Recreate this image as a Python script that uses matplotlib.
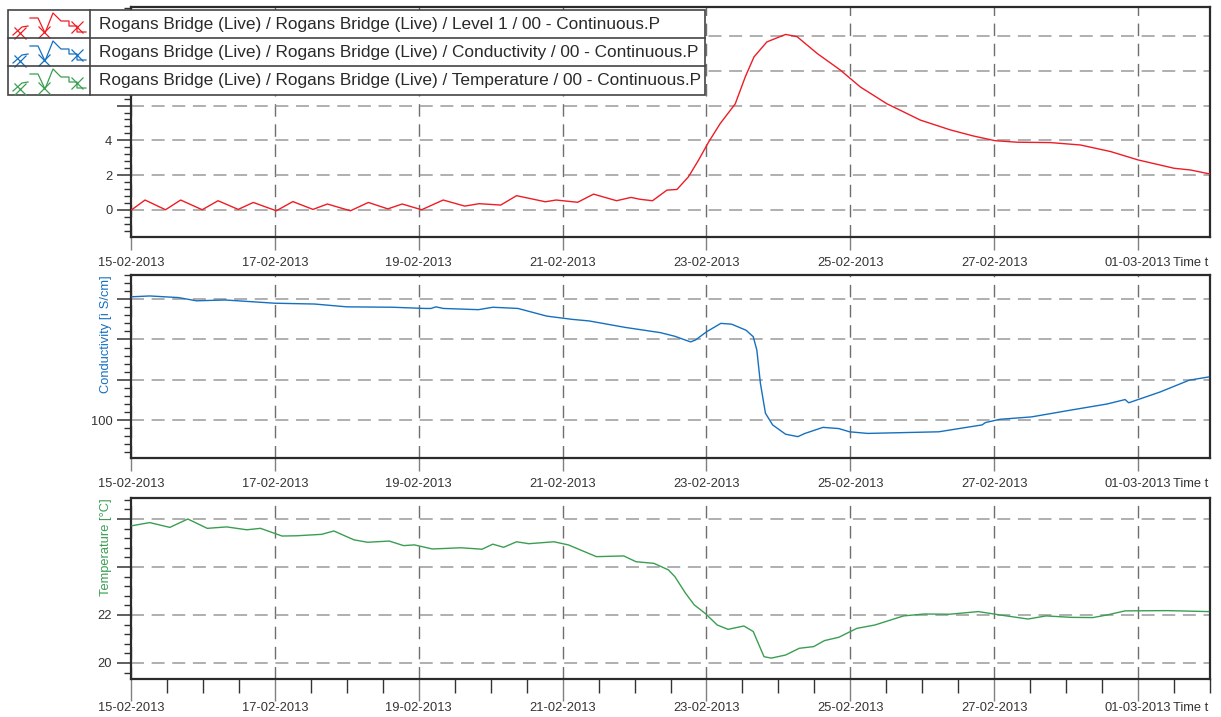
import datetime as dt

import matplotlib
matplotlib.use("Agg")
import matplotlib.dates as mdates
import numpy as np
from matplotlib import pyplot as plt
from matplotlib.patches import Rectangle
from matplotlib.ticker import FixedLocator, MultipleLocator, NullFormatter

plt.rcParams['font.family'] = ['Liberation Sans', 'DejaVu Sans']

W, H = 1221, 717
START = dt.datetime(2013, 2, 15)

# ---- data (days since 15-02-2013 00:00, value) ----
level_days = [0.01, 0.195, 0.48, 0.69, 0.99, 1.21, 1.49, 1.70, 2.02, 2.25, 2.53, 2.73,
              3.05, 3.30, 3.57, 3.77, 4.04, 4.34, 4.64, 4.84, 5.14, 5.36, 5.76, 5.91,
              6.21, 6.43, 6.75, 6.95, 7.08, 7.25, 7.45, 7.59, 7.75, 7.89, 8.03, 8.19,
              8.40, 8.54, 8.66, 8.84, 9.10, 9.26, 9.54, 9.86, 10.14, 10.51, 10.70, 10.97,
              11.39, 11.71, 12.01, 12.32, 12.78, 13.20, 13.62, 14.0, 14.50, 14.73, 15.0]
level_vals = [0.0, 0.56, 0.0, 0.56, 0.0, 0.52, 0.02, 0.42, -0.06, 0.47, 0.02, 0.33,
              -0.06, 0.42, 0.05, 0.33, 0.0, 0.56, 0.21, 0.35, 0.27, 0.81, 0.46, 0.56,
              0.43, 0.90, 0.52, 0.71, 0.60, 0.52, 1.13, 1.17, 1.90, 2.86, 3.90, 4.96,
              6.10, 7.66, 8.80, 9.67, 10.10, 9.97, 9.00, 8.05, 7.07, 6.10, 5.72, 5.17,
              4.60, 4.25, 3.98, 3.89, 3.87, 3.73, 3.35, 2.87, 2.39, 2.29, 2.06]

cond_days = [0.015, 0.26, 0.66, 0.91, 1.31, 2.0, 2.55, 3.0, 3.64, 4.09, 4.17, 4.24,
             4.34, 4.83, 5.03, 5.38, 5.78, 6.13, 6.37, 6.87, 7.36, 7.56, 7.78, 7.85,
             8.0, 8.20, 8.35, 8.55, 8.65, 8.70, 8.75, 8.82, 8.92, 9.10, 9.27, 9.37,
             9.62, 9.84, 9.99, 10.24, 10.74, 11.23, 11.58, 11.83, 11.88, 12.08, 12.52,
             13.07, 13.57, 13.82, 13.87, 14.31, 14.71, 14.98]
cond_vals = [130.6, 130.8, 130.4, 129.6, 129.8, 129.0, 128.8, 128.1, 128.0, 127.7, 127.7, 128.1,
             127.7, 127.4, 128.0, 127.7, 125.8, 125.0, 124.6, 123.0, 121.7, 120.8, 119.4, 119.9,
             121.9, 124.0, 123.8, 122.3, 120.7, 117.4, 109.1, 101.7, 98.8, 96.5, 95.9, 96.7,
             98.2, 97.9, 97.1, 96.7, 96.9, 97.1, 98.1, 98.8, 99.4, 100.2, 100.8,
             102.5, 104.0, 105.1, 104.3, 107.0, 109.9, 110.7]

temp_days = [0.015, 0.26, 0.54, 0.79, 1.06, 1.33, 1.61, 1.80, 2.10, 2.30, 2.65, 2.82,
             3.10, 3.29, 3.59, 3.79, 3.94, 4.19, 4.59, 4.88, 5.03, 5.18, 5.36, 5.53,
             5.88, 6.08, 6.47, 6.85, 7.02, 7.27, 7.47, 7.56, 7.71, 7.83, 7.98, 8.15,
             8.30, 8.52, 8.65, 8.80, 8.90, 9.10, 9.29, 9.49, 9.64, 9.84, 10.09, 10.34,
             10.74, 11.03, 11.38, 11.78, 12.08, 12.47, 12.72, 13.07, 13.37, 13.57, 13.82,
             14.41, 14.98]
temp_vals = [25.72, 25.85, 25.65, 26.0, 25.61, 25.67, 25.55, 25.61, 25.29, 25.30, 25.36, 25.5,
             25.13, 25.03, 25.08, 24.89, 24.92, 24.75, 24.80, 24.74, 24.95, 24.82, 25.05, 24.97,
             25.05, 24.92, 24.43, 24.46, 24.22, 24.15, 23.88, 23.6, 22.9, 22.42, 22.07, 21.58,
             21.40, 21.54, 21.31, 20.26, 20.2, 20.33, 20.61, 20.68, 20.93, 21.07, 21.44, 21.58,
             21.96, 22.04, 22.03, 22.14, 22.0, 21.83, 21.96, 21.90, 21.89, 22.0, 22.17,
             22.18, 22.14]

legend_labels = [
    "Rogans Bridge (Live) / Rogans Bridge (Live) / Level 1 / 00 - Continuous.P",
    "Rogans Bridge (Live) / Rogans Bridge (Live) / Conductivity / 00 - Continuous.P",
    "Rogans Bridge (Live) / Rogans Bridge (Live) / Temperature / 00 - Continuous.P",
]
colors = ['#ee1c25', '#1570c0', '#3a9e52']
tick_days = [0, 2, 4, 6, 8, 10, 12, 14]

# y-axis setup per panel: (ylim, grid ticks, labelled ticks, minor step, ylabel)
panels = [
    ((-1.57, 11.68), [0, 2, 4, 6, 8, 10], [0, 2, 4], 0.4, None),
    ((90.6, 136.0), [100, 110, 120, 130], [100], 2, "Conductivity [ì S/cm]"),
    ((19.33, 26.875), [20, 22, 24, 26], [20, 22], 0.4, "Temperature [°C]"),
]
series = [(level_days, level_vals), (cond_days, cond_vals), (temp_days, temp_vals)]
# axes boxes in pixels: top, bottom
boxes = [(7, 237), (275, 458), (498, 679)]
left_px, right_px = 131, 1210


def to_dates(days):
    return [START + dt.timedelta(days=d) for d in days]


fig = plt.figure(figsize=(W / 100, H / 100), dpi=100)
for i, ((top, bot), (ylim, grid_t, lab_t, mstep, ylab), (xd, yv)) in enumerate(
        zip(boxes, panels, series)):
    ax = fig.add_axes([left_px / W, 1 - bot / H, (right_px - left_px) / W, (bot - top) / H])
    ax.plot(to_dates(xd), yv, color=colors[i], lw=1.0, zorder=3)
    ax.set_xlim(START, START + dt.timedelta(days=15))
    ax.set_ylim(*ylim)

    ax.yaxis.set_major_locator(FixedLocator(grid_t))
    ax.set_yticklabels([str(t) if t in lab_t else '' for t in grid_t])
    ax.yaxis.set_minor_locator(MultipleLocator(mstep))
    ax.yaxis.set_minor_formatter(NullFormatter())

    ax.xaxis.set_major_locator(FixedLocator(mdates.date2num(to_dates(tick_days))))
    ax.xaxis.set_major_formatter(mdates.DateFormatter('%d-%m-%Y'))

    ax.grid(axis='y', which='major', color='#9a9a9a', lw=1.1, ls=(0, (8.5, 5)), zorder=1)
    ax.grid(axis='x', which='major', color='#6e6e6e', lw=1.0, ls=(0, (9, 5.5)), zorder=1)

    for sp in ax.spines.values():
        sp.set_linewidth(1.6)
        sp.set_color('#2b2b2b')

    ax.tick_params(axis='y', which='major', direction='out', length=10, width=1.1,
                   color='#333333', labelsize=9.3, labelcolor='#333333', pad=3.5)
    ax.tick_params(axis='y', which='minor', direction='out', length=5, width=1.0,
                   color='#333333')
    if i < 2:
        ax.tick_params(axis='x', which='major', direction='out', length=9.4, width=1.0,
                       color='#808080', labelsize=9.3, labelcolor='#333333', pad=5)
        lab_off = 14.4
    else:
        ax.xaxis.set_minor_locator(mdates.HourLocator(byhour=[0, 12]))
        ax.tick_params(axis='x', which='major', direction='out', length=16, width=1.0,
                       color='#808080', labelsize=9.3, labelcolor='#333333', pad=0.5)
        ax.tick_params(axis='x', which='minor', direction='out', length=10, width=1.0,
                       color='#333333')
        lab_off = 16.5
    ax.annotate('Time t', xy=(1, 0), xycoords='axes fraction', xytext=(-1.5, -lab_off),
                textcoords='offset points', ha='right', va='top', fontsize=9.3,
                color='#333333')
    if ylab:
        ax.text(-0.0235, 1.0, ylab, transform=ax.transAxes, rotation=90, ha='center',
                va='top', fontsize=9.3, color=colors[i])

# legend table drawn in pixel space
lg = fig.add_axes([0, 0, 1, 1], zorder=10)
lg.set_xlim(0, W)
lg.set_ylim(H, 0)
lg.axis('off')
lg.patch.set_alpha(0)
row_tops = [10, 38, 66]
row_h = 28.3
lg.add_patch(Rectangle((8, 10), 697, 3 * row_h, facecolor='white', edgecolor='#444444', lw=1.2))
lg.plot([89.5, 89.5], [10, 10 + 3 * row_h], color='#444444', lw=1.2)
icon_a = ([13, 22, 28], [25, 17, 16])
icon_b = ([30, 38, 45, 53, 61, 69, 69, 77, 77, 86], [8, 8, 23, 3, 11, 11, 16, 16, 22, 22])
icon_m = ([20, 44, 77], [23, 22, 17])
for k, (rt, lab, c) in enumerate(zip(row_tops, legend_labels, colors)):
    if k > 0:
        lg.plot([8, 705], [rt, rt], color='#444444', lw=1.2)
    lg.plot(icon_a[0], [rt + v for v in icon_a[1]], color=c, lw=0.9)
    lg.plot(icon_b[0], [rt + v for v in icon_b[1]], color=c, lw=0.9)
    lg.plot(icon_m[0], [rt + v for v in icon_m[1]], ls='none', marker='x', ms=9,
            mew=0.9, color=c)
    lg.text(99, rt + row_h / 2, lab, ha='left', va='center', fontsize=12.4, color='#2a2a2a')

fig.savefig('out.png', dpi=100)
